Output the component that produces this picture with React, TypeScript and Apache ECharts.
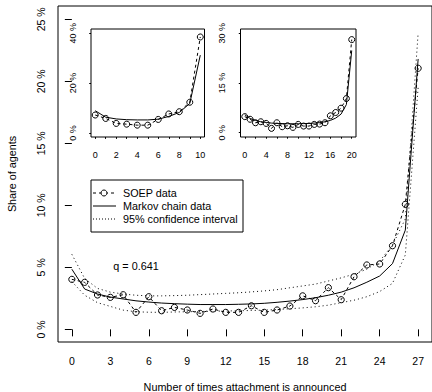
import React, { useEffect, useRef } from "react";
import * as echarts from "echarts";

// ---------- data ----------
const mainTimes = [0, 1, 2, 3, 4, 5, 6, 7, 8, 9, 10, 11, 12, 13, 14, 15, 16, 17, 18, 19, 20, 21, 22, 23, 24, 25, 26, 27];
const soepMain = [4.03, 3.79, 2.77, 2.58, 2.79, 1.37, 2.63, 1.5, 1.77, 1.56, 1.29, 1.64, 1.37, 1.37, 1.9, 1.37, 1.56, 1.88, 2.7, 2.31, 3.36, 2.39, 4.24, 5.19, 5.27, 6.74, 10.08, 21.05];
const markovMain = [4.85, 3.25, 2.85, 2.6, 2.45, 2.3, 2.2, 2.12, 2.07, 2.03, 2.0, 2.0, 2.0, 2.02, 2.05, 2.1, 2.18, 2.28, 2.4, 2.55, 2.75, 3.0, 3.35, 3.8, 4.3, 5.3, 8.0, 21.8];
const upperMain = [6.05, 4.1, 3.3, 3.0, 2.85, 2.75, 2.7, 2.7, 2.72, 2.75, 2.8, 2.85, 2.9, 2.95, 3.02, 3.1, 3.2, 3.35, 3.5, 3.65, 3.9, 4.15, 4.45, 4.85, 5.5, 6.8, 8.9, 23.9];
const lowerMain = [3.85, 2.75, 2.15, 1.85, 1.55, 1.42, 1.38, 1.37, 1.4, 1.42, 1.44, 1.46, 1.48, 1.5, 1.52, 1.55, 1.6, 1.66, 1.73, 1.82, 1.95, 2.15, 2.35, 2.63, 3.05, 3.71, 6.0, 19.5];
const mainXTicks = [0, 3, 6, 9, 12, 15, 18, 21, 24, 27];
const mainYTicks = [0, 5, 10, 15, 20, 25];

const inset1Times = [0, 1, 2, 3, 4, 5, 6, 7, 8, 9, 10];
const soepInset1 = [7.17, 5.8, 3.8, 3.5, 3.1, 3.1, 5.4, 7.6, 8.5, 12.3, 38.5];
const markovInset1 = [8.9, 6.3, 5.6, 5.3, 5.2, 5.2, 5.5, 6.6, 8.2, 11.8, 31.2];
const inset1XTicks = [0, 1, 2, 3, 4, 5, 6, 7, 8, 9, 10];
const inset1XLabels = [0, 2, 4, 6, 8, 10];
const inset1YTicks = [0, 20, 40];

const inset2Times = [0, 1, 2, 3, 4, 5, 6, 7, 8, 9, 10, 11, 12, 13, 14, 15, 16, 17, 18, 19, 20];
const soepInset2 = [4.85, 4.05, 3.0, 3.3, 2.8, 1.3, 3.0, 1.8, 2.1, 1.6, 2.5, 2.0, 2.0, 2.5, 2.6, 3.0, 5.1, 6.1, 7.4, 10.3, 28.1];
const markovInset2 = [5.4, 4.3, 3.7, 3.3, 3.1, 2.9, 2.8, 2.75, 2.7, 2.7, 2.7, 2.75, 2.8, 2.9, 3.05, 3.3, 3.7, 4.4, 5.6, 8.5, 24.8];
const inset2XTicks = [0, 2, 4, 6, 8, 10, 12, 14, 16, 18, 20];
const inset2XLabels = [0, 4, 8, 12, 16, 20];
const inset2YTicks = [0, 15, 30];

const FONT = "Liberation Sans, Arial, Helvetica, sans-serif";

const pairs = (xs: number[], ys: number[]) => xs.map((x, i) => [x, ys[i]]);

function xAxisDef(gridIndex: number, min: number, max: number, ticks: number[], labels: number[], fs: number, tickLen: number, margin: number) {
  return {
    type: "value",
    gridIndex,
    min,
    max,
    axisLine: { show: false },
    splitLine: { show: false },
    axisTick: { show: true, inside: false, length: tickLen, customValues: ticks, lineStyle: { color: "#000", width: 1 } },
    axisLabel: { show: true, customValues: labels, color: "#000", fontSize: fs, fontFamily: FONT, margin },
  };
}

function yAxisDef(gridIndex: number, min: number, max: number, ticks: number[], fs: number, tickLen: number, margin: number) {
  return {
    type: "value",
    gridIndex,
    min,
    max,
    axisLine: { show: false },
    splitLine: { show: false },
    axisTick: { show: true, inside: false, length: tickLen, customValues: ticks, lineStyle: { color: "#000", width: 1 } },
    axisLabel: {
      show: true,
      customValues: ticks,
      rotate: 90,
      color: "#000",
      fontSize: fs,
      fontFamily: FONT,
      margin,
      formatter: (v: number) => `${v} %`,
    },
  };
}

function soepSeries(xi: number, yi: number, data: number[][], size: number) {
  return {
    type: "line",
    xAxisIndex: xi,
    yAxisIndex: yi,
    data,
    symbol: "circle",
    symbolSize: size,
    showSymbol: true,
    silent: true,
    itemStyle: { color: "transparent", borderColor: "#000", borderWidth: 1 },
    lineStyle: { color: "#000", width: 1, type: [3, 3] },
    z: 4,
  };
}

function plainSeries(xi: number, yi: number, data: number[][], dash: any) {
  return {
    type: "line",
    xAxisIndex: xi,
    yAxisIndex: yi,
    data,
    symbol: "none",
    silent: true,
    lineStyle: { color: "#000", width: 1, type: dash },
    z: 3,
  };
}

export default function App() {
  const ref = useRef<HTMLDivElement>(null);
  useEffect(() => {
    if (!ref.current) return;
    const chart = echarts.init(ref.current, null, { renderer: "svg" });
    const option: any = {
      animation: false,
      backgroundColor: "#fff",
      grid: [
        { left: 58, top: 6, width: 375, height: 336, show: true, borderColor: "#000", borderWidth: 1, backgroundColor: "transparent", z: 1 },
        { left: 91, top: 29, width: 113.5, height: 108, show: true, borderColor: "#000", borderWidth: 1, backgroundColor: "#fff", z: 5 },
        { left: 240.5, top: 29, width: 115.5, height: 108, show: true, borderColor: "#000", borderWidth: 1, backgroundColor: "#fff", z: 5 },
      ],
      xAxis: [
        xAxisDef(0, -1.08, 28.08, mainXTicks, mainXTicks, 10.5, 7, 13),
        xAxisDef(1, -0.4, 10.4, inset1XTicks, inset1XLabels, 9, 6, 13),
        xAxisDef(2, -0.8, 20.8, inset2XTicks, inset2XLabels, 9, 6, 13),
      ],
      yAxis: [
        yAxisDef(0, -1.02, 26.07, mainYTicks, 10.5, 7, 12),
        yAxisDef(1, -1.65, 41.7, inset1YTicks, 9, 6, 14),
        yAxisDef(2, -1.3, 31.3, inset2YTicks, 9, 6, 14),
      ],
      series: [
        plainSeries(0, 0, pairs(mainTimes, upperMain), [1, 3]),
        plainSeries(0, 0, pairs(mainTimes, lowerMain), [1, 3]),
        plainSeries(0, 0, pairs(mainTimes, markovMain), "solid"),
        soepSeries(0, 0, pairs(mainTimes, soepMain), 6.2),
        { ...plainSeries(1, 1, pairs(inset1Times, markovInset1), "solid"), z: 6 },
        { ...soepSeries(1, 1, pairs(inset1Times, soepInset1), 6), z: 7 },
        { ...plainSeries(2, 2, pairs(inset2Times, markovInset2), "solid"), z: 6 },
        { ...soepSeries(2, 2, pairs(inset2Times, soepInset2), 6), z: 7 },
      ],
      graphic: [
        {
          type: "text",
          x: 12,
          y: 174,
          rotation: Math.PI / 2,
          style: { text: "Share of agents", fill: "#000", font: `10.8px ${FONT}`, textAlign: "center", textVerticalAlign: "middle", align: "center", verticalAlign: "middle" },
        },
        {
          type: "text",
          x: 245,
          y: 387,
          style: { text: "Number of times attachment is announced", fill: "#000", font: `10.8px ${FONT}`, textAlign: "center", textVerticalAlign: "middle", align: "center", verticalAlign: "middle" },
        },
        {
          type: "text",
          x: 136,
          y: 266,
          style: { text: "q = 0.641", fill: "#000", font: `10.8px ${FONT}`, textAlign: "center", textVerticalAlign: "middle", align: "center", verticalAlign: "middle" },
        },
        {
          type: "group",
          z: 10,
          children: [
            { type: "rect", shape: { x: 91, y: 180, width: 152, height: 52 }, style: { fill: "#fff", stroke: "#000", lineWidth: 1 } },
            { type: "line", shape: { x1: 93, y1: 193, x2: 116, y2: 193 }, style: { stroke: "#000", lineWidth: 1, lineDash: [3, 3] } },
            { type: "circle", shape: { cx: 104, cy: 193, r: 3 }, style: { fill: "#fff", stroke: "#000", lineWidth: 1 } },
            { type: "line", shape: { x1: 93, y1: 206, x2: 116, y2: 206 }, style: { stroke: "#000", lineWidth: 1 } },
            { type: "line", shape: { x1: 93, y1: 219, x2: 116, y2: 219 }, style: { stroke: "#000", lineWidth: 1, lineDash: [1, 2] } },
            { type: "text", x: 123, y: 193, style: { text: "SOEP data", fill: "#000", font: `10.8px ${FONT}`, textVerticalAlign: "middle", verticalAlign: "middle" } },
            { type: "text", x: 123, y: 206, style: { text: "Markov chain data", fill: "#000", font: `10.8px ${FONT}`, textVerticalAlign: "middle", verticalAlign: "middle" } },
            { type: "text", x: 123, y: 219, style: { text: "95% confidence interval", fill: "#000", font: `10.8px ${FONT}`, textVerticalAlign: "middle", verticalAlign: "middle" } },
          ],
        },
      ],
    };
    chart.setOption(option);
    return () => chart.dispose();
  }, []);
  return <div ref={ref} style={{ position: "fixed", left: 0, top: 0, width: 432, height: 392 }} />;
}
